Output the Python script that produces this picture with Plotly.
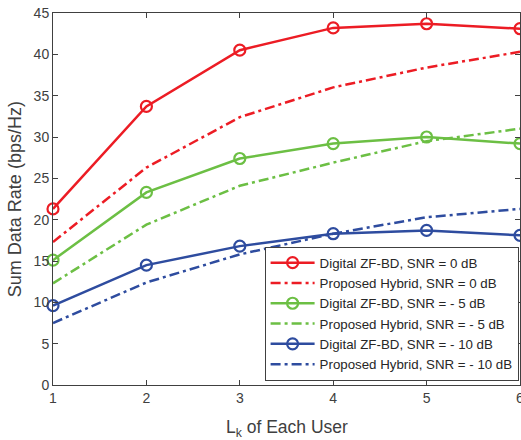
import plotly.graph_objects as go

x_vals = [1, 2, 3, 4, 5, 6]
digital_0 = [21.3, 33.7, 40.5, 43.2, 43.7, 43.1]
hybrid_0 = [17.3, 26.3, 32.4, 36.0, 38.4, 40.3]
digital_m5 = [15.1, 23.3, 27.4, 29.2, 30.0, 29.2]
hybrid_m5 = [12.3, 19.4, 24.1, 26.9, 29.5, 31.0]
digital_m10 = [9.6, 14.5, 16.8, 18.3, 18.7, 18.1]
hybrid_m10 = [7.5, 12.4, 15.8, 18.3, 20.3, 21.3]

names = [
    "Digital ZF-BD, SNR = 0 dB",
    "Proposed Hybrid, SNR = 0 dB",
    "Digital ZF-BD, SNR = - 5 dB",
    "Proposed Hybrid, SNR = - 5 dB",
    "Digital ZF-BD, SNR = - 10 dB",
    "Proposed Hybrid, SNR = - 10 dB",
]
y_tick_vals = [0, 5, 10, 15, 20, 25, 30, 35, 40, 45]
x_title = "L<sub>k</sub> of Each User"
y_title = "Sum Data Rate (bps/Hz)"

RED = "#EC1C24"
GREEN = "#6CBF44"
BLUE = "#2E4C9F"
TXT = "#404040"
FONT = "Arial, Liberation Sans, sans-serif"

series = [
    (digital_0, RED, True),
    (hybrid_0, RED, False),
    (digital_m5, GREEN, True),
    (hybrid_m5, GREEN, False),
    (digital_m10, BLUE, True),
    (hybrid_m10, BLUE, False),
]

fig = go.Figure()
for (ys, col, solid), nm in zip(series, names):
    if solid:
        fig.add_trace(go.Scatter(
            x=x_vals, y=ys, name=nm, mode="lines+markers",
            line=dict(color=col, width=2.5),
            marker=dict(symbol="circle-open", size=11, color=col, line=dict(width=2.2, color=col)),
            cliponaxis=False,
        ))
    else:
        fig.add_trace(go.Scatter(
            x=x_vals, y=ys, name=nm, mode="lines",
            line=dict(color=col, width=2.5, dash="10px,4px,3px,4px"),
        ))

axis_common = dict(
    showline=True, linecolor=TXT, linewidth=1, mirror="ticks",
    ticks="inside", ticklen=5, tickcolor=TXT, tickwidth=1,
    showgrid=False, zeroline=False, automargin=False,
    ticklabeloverflow="allow",
    tickfont=dict(family=FONT, size=14, color=TXT),
)

fig.update_layout(
    width=521, height=440,
    margin=dict(l=53, r=1, t=13, b=55),
    plot_bgcolor="white", paper_bgcolor="white",
    font=dict(family=FONT, color=TXT),
    xaxis=dict(range=[1, 6], tickvals=x_vals, **axis_common),
    yaxis=dict(range=[0, 45], tickvals=y_tick_vals, **axis_common),
    legend=dict(
        x=0.997, y=0.012, xanchor="right", yanchor="bottom",
        bgcolor="white", bordercolor=TXT, borderwidth=1,
        font=dict(family=FONT, size=13.3, color="#262626"),
        tracegroupgap=0, itemwidth=44,
    ),
    showlegend=True,
    annotations=[
        dict(text=x_title, xref="paper", yref="paper", x=0.5, y=-0.08,
             xanchor="center", yanchor="top", showarrow=False,
             font=dict(family=FONT, size=17.5, color=TXT)),
        dict(text=y_title, xref="paper", yref="paper", x=-0.081, y=0.5,
             xanchor="center", yanchor="middle", textangle=-90, showarrow=False,
             font=dict(family=FONT, size=18, color=TXT)),
    ],
)

fig.write_html("out.html", config={"displayModeBar": False},
               post_script="document.body.style.margin='0';document.body.style.overflow='hidden';")
